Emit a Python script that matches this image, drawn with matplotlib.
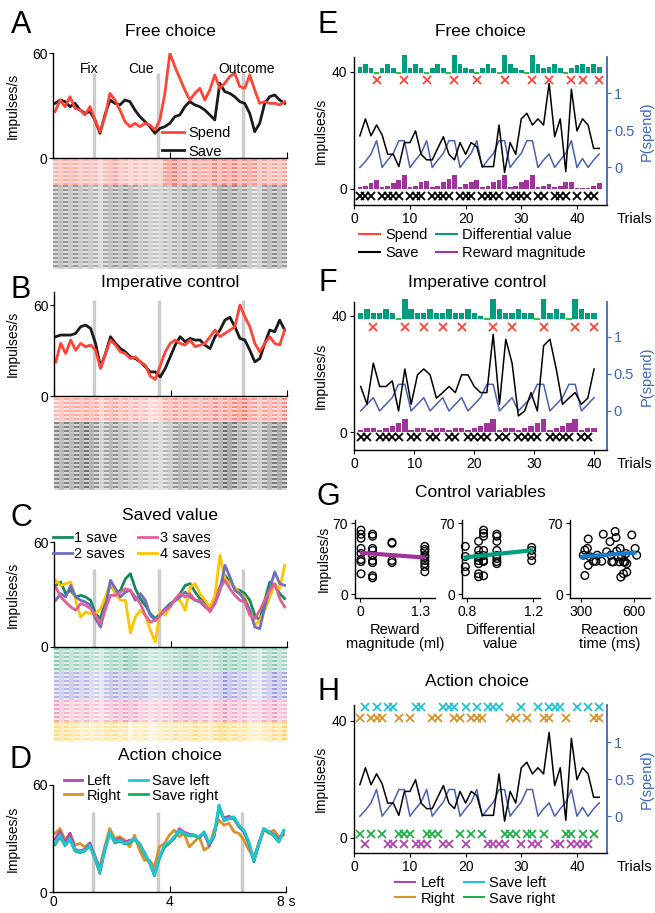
import numpy as np
import matplotlib
matplotlib.use("Agg")
import matplotlib.pyplot as plt
import matplotlib.colors as mcolors
from matplotlib.lines import Line2D

plt.rcParams['font.family'] = ['Liberation Sans', 'DejaVu Sans']
plt.rcParams['font.size'] = 10
plt.rcParams['axes.linewidth'] = 1.0

W, H = 655, 913

# ---------------- time courses (impulses/s), one value every ~0.17 s ----------------
t = np.linspace(0.06, 7.92, 47)
events = [1.38, 3.59, 6.48]

A_spend = [26.7, 33.3, 29.5, 35.2, 28.6, 27.6, 24.8, 29.5, 21.9, 15.2, 23.8, 37.1, 33.3, 27.6, 21.0, 18.1,
           20.0, 18.1, 20.0, 19.0, 16.2, 21.9, 37.1, 60.0, 52.4, 45.7, 39.0, 33.3, 37.1, 40.0, 33.3, 39.0,
           47.6, 40.0, 42.9, 46.7, 48.6, 41.0, 40.0, 47.6, 39.0, 31.4, 32.4, 31.4, 31.4, 30.5, 32.4]
A_save = [31.4, 33.3, 32.4, 29.5, 31.4, 27.6, 25.7, 26.7, 21.9, 14.3, 24.8, 33.3, 31.4, 30.5, 33.3, 32.4,
          27.6, 23.8, 21.0, 18.1, 14.3, 17.1, 18.1, 20.0, 23.8, 24.8, 29.5, 32.4, 30.5, 29.5, 27.6, 24.8,
          21.9, 42.9, 38.1, 37.1, 35.2, 32.4, 31.4, 25.7, 15.2, 20.0, 31.4, 35.2, 36.2, 33.3, 31.4]
B_spend = [22.5, 34.7, 28.0, 36.9, 30.2, 34.7, 32.5, 33.6, 30.2, 18.1, 28.0, 36.9, 33.6, 29.1, 28.0, 24.7,
           25.8, 22.5, 20.3, 13.0, 11.0, 20.0, 29.1, 34.7, 36.9, 34.7, 33.6, 36.9, 32.5, 33.6, 34.7, 39.1,
           43.5, 39.1, 41.3, 43.5, 45.7, 60.0, 52.3, 45.7, 34.7, 29.1, 34.7, 39.1, 34.7, 33.6, 43.5]
B_save = [39.1, 40.2, 40.2, 40.2, 41.3, 45.7, 46.8, 44.6, 34.7, 19.2, 28.0, 39.1, 34.7, 31.3, 29.1, 25.8,
          24.7, 22.5, 19.2, 15.9, 15.9, 12.6, 18.1, 25.8, 33.6, 39.1, 35.8, 38.0, 36.9, 36.9, 33.6, 31.3,
          39.1, 43.5, 50.1, 51.9, 45.7, 38.0, 36.9, 30.2, 22.5, 24.7, 34.7, 43.5, 42.4, 50.1, 43.5]
C_save1 = [35.2, 37.1, 30.5, 32.4, 28.6, 29.5, 28.6, 26.7, 19.0, 16.2, 26.7, 36.2, 30.5, 32.4, 39.0, 41.9,
           33.3, 27.6, 23.8, 19.0, 16.2, 19.0, 21.9, 24.8, 26.7, 30.5, 35.2, 36.2, 31.4, 27.6, 25.7, 22.9,
           26.7, 34.3, 41.0, 37.1, 33.3, 32.4, 30.5, 26.7, 18.1, 15.2, 26.7, 37.1, 35.2, 30.5, 27.6]
C_save2 = [26.7, 30.5, 28.6, 35.2, 28.6, 26.7, 25.7, 23.8, 16.2, 11.4, 22.9, 38.1, 33.3, 28.6, 31.4, 32.4,
           26.7, 30.5, 26.7, 18.1, 15.2, 18.1, 21.9, 23.8, 26.7, 28.6, 31.4, 28.6, 26.7, 25.7, 22.9, 21.0,
           24.8, 32.4, 46.7, 40.0, 32.4, 30.5, 26.7, 21.0, 11.4, 10.5, 22.9, 33.3, 42.9, 36.2, 35.2]
C_save3 = [34.3, 28.6, 25.7, 22.9, 21.0, 24.8, 23.8, 21.9, 18.1, 13.3, 21.9, 29.5, 29.5, 31.4, 33.3, 32.4,
           28.6, 24.8, 18.1, 14.3, 15.2, 18.1, 21.0, 22.9, 27.6, 30.5, 28.6, 30.5, 26.7, 26.7, 23.8, 20.0,
           25.7, 33.3, 38.1, 33.3, 29.5, 26.7, 25.7, 18.1, 16.2, 21.0, 26.7, 32.4, 36.2, 27.6, 22.9]
C_save4 = [38.1, 35.2, 36.2, 37.1, 26.7, 17.1, 20.0, 19.0, 19.0, 21.9, 28.6, 37.1, 30.5, 26.7, 26.7, 8.0,
           17.1, 21.0, 18.1, 9.5, 2.9, 21.0, 18.1, 23.8, 26.7, 26.7, 21.0, 34.3, 36.2, 30.5, 26.7, 22.9,
           29.5, 52.4, 39.0, 36.2, 34.3, 30.5, 28.6, 21.0, 12.4, 15.2, 21.0, 28.6, 36.2, 33.3, 46.7]
D_left = [29.5, 34.0, 27.5, 33.0, 24.0, 23.0, 24.0, 27.5, 20.5, 12.0, 24.0, 33.0, 28.5, 30.0, 28.0, 29.0,
          29.5, 27.0, 22.0, 16.5, 10.5, 19.0, 25.0, 27.5, 30.0, 35.5, 33.5, 32.5, 32.0, 30.5, 33.0, 26.0,
          31.0, 47.0, 41.5, 42.5, 41.0, 36.5, 34.0, 27.0, 17.5, 27.5, 35.0, 34.0, 32.5, 29.0, 34.0]
D_right = [32.8, 35.6, 29.1, 32.8, 26.3, 27.2, 25.3, 27.2, 19.7, 14.1, 25.3, 35.6, 30.0, 31.0, 29.1, 25.3,
           31.9, 23.5, 17.8, 17.8, 14.1, 25.3, 27.2, 31.9, 34.7, 31.0, 32.8, 25.3, 28.1, 31.0, 23.5, 25.3,
           34.7, 40.3, 37.5, 38.5, 33.8, 32.8, 29.1, 23.5, 19.7, 27.2, 35.6, 32.8, 34.7, 31.0, 31.9]
D_saveleft = [27.2, 31.9, 26.3, 30.0, 23.5, 22.5, 23.5, 26.3, 19.7, 11.3, 23.5, 33.8, 28.1, 29.1, 27.2, 28.1,
              30.0, 27.2, 21.6, 16.9, 9.4, 19.7, 26.3, 28.1, 31.0, 34.7, 32.8, 31.9, 31.9, 31.0, 33.8, 27.2,
              31.9, 48.8, 40.3, 41.3, 42.2, 37.5, 34.7, 28.1, 17.8, 27.2, 35.6, 33.8, 31.9, 28.1, 34.7]
D_saveright = [26.5, 31.0, 26.0, 29.5, 23.0, 22.0, 23.0, 26.0, 19.0, 10.5, 23.0, 33.5, 27.5, 28.5, 27.0, 27.5,
               29.5, 27.0, 21.0, 16.5, 9.0, 19.0, 25.5, 27.5, 30.5, 34.0, 32.5, 31.5, 31.5, 30.5, 33.5, 27.0,
               31.5, 48.0, 40.0, 41.0, 41.5, 37.0, 34.0, 27.5, 17.0, 26.5, 35.0, 33.5, 31.5, 28.0, 34.0]

# trials per raster band
A_rows = [13, 42]
B_rows = [12, 34]
C_rows = [12, 14, 11, 10]

# ---------------- single-trial data ----------------
E_trials = np.arange(1, 45)
E_rate = [18.1, 23.9, 18.1, 21.8, 18.4, 11.8, 11.8, 7.6, 15.8, 15.8, 19.8, 11.8, 9.9, 9.9, 13.9, 17.8,
          11.8, 9.9, 15.8, 11.8, 15.8, 14.4, 7.6, 7.6, 7.6, 21.8, 5.6, 15.8, 11.8, 23.9, 25.8, 21.8,
          23.9, 21.8, 36.0, 17.8, 23.9, 5.9, 34.0, 19.8, 23.9, 21.8, 13.8, 13.8]
E_pspend = [0, 0.08, 0.18, 0.36, 0, 0.1, 0.19, 0.36, 0.36, 0, 0.1, 0.19, 0.36, 0, 0.1, 0.19, 0.36, 0.36,
            0, 0.1, 0.19, 0.36, 0, 0.1, 0.19, 0.36, 0.36, 0, 0.1, 0.19, 0.36, 0.36, 0, 0.1, 0.18, 0, 0.1,
            0.19, 0.36, 0, 0.12, 0, 0.1, 0.18]
E_spend = [4, 9, 13, 18, 22, 27, 32, 35, 39, 41, 44]
E_diff = [1.9, 3.0, 1.4, 0, 1.7, 3.0, 1.7, 0, 6.0, 1.7, 3.0, 1.7, 0, 1.7, 3.0, 1.4, 0, 6.0, 3.0, 1.7, 1.1,
          0, 1.7, 3.0, 1.4, 0, 6.0, 3.0, 1.7, 0.9, 0, 6.0, 3.0, 1.7, 1.9, 3.0, 1.4, 0, 1.7, 2.5, 3.0, 1.9,
          3.0, 1.9]
E_reward = [0.5, 1.1, 1.9, 2.9, 0.5, 1.1, 1.9, 3.2, 4.8, 0.8, 1.1, 2.4, 2.7, 0.8, 1.1, 2.2, 3.4, 4.8, 0.8,
            1.6, 2.2, 2.9, 0.5, 1.1, 2.2, 3.2, 4.8, 0.5, 1.1, 2.2, 3.2, 4.8, 0.8, 1.1, 1.6, 0.8, 1.1, 2.2,
            2.5, 0.4, 0.4, 0.4, 1.1, 1.9]

F_trials = np.arange(1, 39)
F_rate = [15.7, 9.6, 23.7, 15.7, 15.7, 17.6, 7.3, 21.7, 9.6, 19.7, 21.7, 19.7, 11.7, 13.6, 15.7, 13.6,
          19.7, 19.7, 15.7, 13.6, 13.6, 33.6, 9.6, 31.9, 23.7, 5.6, 7.3, 13.6, 7.3, 29.7, 31.9, 21.7, 9.6,
          11.7, 13.6, 9.6, 11.7, 21.7]
F_pspend = [0, 0.09, 0.18, 0, 0.09, 0.18, 0.36, 0.36, 0, 0.09, 0.18, 0, 0.09, 0.18, 0, 0.09, 0.18, 0, 0.09,
            0.18, 0.36, 0.36, 0, 0.09, 0.18, 0, 0.09, 0.18, 0.36, 0.36, 0, 0.09, 0.18, 0.36, 0.36, 0, 0.09,
            0.18]
F_spend = [3, 8, 11, 14, 17, 22, 25, 30, 35, 38]
F_diff = [1.9, 3.4, 1.9, 1.9, 3.4, 1.9, 0, 6.9, 3.4, 1.9, 1.9, 3.4, 1.9, 1.9, 3.4, 1.9, 1.9, 3.4, 1.9, 1.0,
          0, 6.9, 3.4, 1.9, 1.9, 3.4, 1.9, 1.9, 0, 6.9, 1.9, 3.4, 1.9, 0, 6.9, 3.4, 1.9, 1.9]
F_reward = [0.7, 1.4, 1.6, 0.7, 1.4, 2.3, 3.1, 4.6, 0.7, 1.4, 1.4, 0.7, 1.4, 1.4, 0.7, 1.4, 1.4, 0.7, 1.4,
            2.3, 3.1, 4.6, 0.9, 1.6, 1.4, 0.9, 1.4, 2.3, 3.1, 4.6, 0.7, 1.4, 2.3, 3.1, 4.6, 0.9, 1.4, 1.6]

H_left = [2, 6, 7, 9, 11, 12, 13, 16, 17, 20, 24, 25, 26, 27, 30, 32, 33, 36, 37, 39, 40, 41, 42]
H_right = [1, 3, 4, 5, 8, 10, 14, 15, 18, 19, 21, 22, 23, 28, 29, 31, 34, 35, 38, 43, 44]
H_saveleft = [2, 4, 6, 7, 11, 12, 16, 17, 18, 20, 22, 24, 25, 26, 30, 33, 35, 36, 37, 40, 42, 44]
H_saveright = [1, 3, 5, 8, 9, 10, 13, 14, 15, 19, 21, 23, 27, 28, 29, 31, 32, 34, 38, 39, 41, 43]

# ---------------- control variables ----------------
G1_levels = [0.02, 0.27, 0.69, 1.40]
G1_y = [[63, 59, 55, 45, 40, 34, 32, 20], [59, 57, 45, 43, 38, 33, 31, 18, 16],
        [51, 50, 33, 31], [47, 44, 42, 38, 36, 33, 30, 27, 22]]
G1_fit = ([0.0, 1.4], [40.7, 36.0])
G2_levels = [0.79, 0.87, 0.90, 0.98, 1.19]
G2_y = [[47, 37, 27, 22], [52, 43, 38, 36, 33, 30, 20, 17], [63, 60, 57, 43, 38, 33, 32, 18],
        [59, 57, 52, 43, 38, 35, 32, 30], [46, 43, 38, 33]]
G2_fit = ([0.78, 1.2], [36.0, 43.3])
G3_rt = [313, 322, 336, 341, 351, 322, 341, 370, 385, 392, 417, 426, 445, 464, 468, 474, 483, 493, 498,
         502, 511, 517, 521, 525, 530, 540, 540, 549, 555, 559, 559, 587, 606, 615]
G3_y = [38.3, 43.3, 45.0, 54.3, 36.7, 18.3, 28.3, 32.3, 32.3, 38.3, 32.3, 59.0, 41.7, 51.7, 38.3, 31.7,
        31.7, 61.7, 55.7, 42.3, 36.7, 31.7, 45.0, 16.7, 36.7, 31.7, 20.0, 31.7, 40.0, 30.0, 21.7, 58.3,
        45.0, 38.3]
G3_fit = ([295, 615], [36.7, 41.0])

# colours
RED = '#ff4436'
BLACK = '#1a1a1a'
TEAL = '#009e7e'
PURPLE = '#a0349a'
BLUE = '#4a5fb5'
AXBLUE = '#3d66bd'
GRAY = '#cccccc'

fig = plt.figure(figsize=(W / 100, H / 100), dpi=100)


def box(x0, x1, ytop, ybot):
    return [x0 / W, 1 - ybot / H, (x1 - x0) / W, (ybot - ytop) / H]


def psth(pos, ymax, evtop, lines, xlabels=False):
    ax = fig.add_axes(box(*pos))
    ax.vlines(events, 0, evtop, color=GRAY, lw=2.5, zorder=0)
    for y, c in lines:
        ax.plot(t, y, color=c, lw=2.0, solid_joinstyle='round')
    ax.set_xlim(0, 8)
    ax.set_ylim(0, ymax)
    ax.spines[['top', 'right']].set_visible(False)
    ax.set_yticks([0, 60])
    ax.tick_params(axis='y', length=3, pad=1, labelsize=10)
    ax.set_xticks([0, 4, 8])
    if xlabels:
        ax.set_xticklabels(['0', '4', '8 s'])
        ax.tick_params(axis='x', direction='in', length=4, pad=2, labelsize=10)
    else:
        ax.set_xticklabels([])
        ax.tick_params(axis='x', direction='in', length=4)
    ax.set_ylabel('Impulses/s', fontsize=10)
    ax.yaxis.set_label_coords(-0.145, 0.5)
    return ax


def raster(pos, bands):
    # one row per trial, darkness following the band's firing rate
    ax = fig.add_axes(box(*pos))
    rows = []
    for rate, color, n in bands:
        rgb = mcolors.to_rgb(color)
        a = 0.12 + 0.55 * np.clip(np.array(rate) / 55.0, 0, 1)
        band = np.ones((n, len(rate), 4))
        band[:, :, :3] = rgb
        band[:, :, 3] = a
        band[1::2, :, 3] *= 0.5
        band[::2, 1::2, 3] *= 0.6
        band[1::2, ::2, 3] *= 0.6
        rows.append(band)
    img = np.concatenate(rows)
    ax.imshow(img, aspect='auto', extent=[0, 8, img.shape[0], 0], interpolation='nearest')
    ax.set_xlim(0, 8)
    ax.axis('off')


def letter(x, y, s):
    fig.text(x / W, 1 - y / H, s, fontsize=22, ha='center', va='center')


def title(x, y, s):
    fig.text(x / W, 1 - y / H, s, fontsize=12.5, ha='center', va='center')


# ---------------- A ----------------
axA = psth((53.3, 287, 53.3, 158.3), 60, 48.6, [(A_save, BLACK), (A_spend, RED)])
axA.text(1.23, 51, 'Fix', ha='center', va='center', fontsize=10)
axA.text(3.0, 51, 'Cue', ha='center', va='center', fontsize=10)
axA.text(6.61, 51, 'Outcome', ha='center', va='center', fontsize=10)
axA.legend([Line2D([], [], color=RED, lw=2), Line2D([], [], color=BLACK, lw=2)], ['Spend', 'Save'],
           loc='lower left', bbox_to_anchor=(0.42, -0.1), frameon=False, fontsize=10.5,
           handlelength=1.5, handletextpad=0.3, labelspacing=0.3, borderpad=0.2)
raster((53.3, 287, 159, 269), [(A_spend, '#ff2a1a', A_rows[0]), (A_save, '#101010', A_rows[1])])
letter(21, 25, 'A')
title(170, 32, 'Free choice')

# ---------------- B ----------------
psth((54, 287, 292, 396), 68.6, 63, [(B_save, BLACK), (B_spend, RED)])
raster((54, 287, 398, 490), [(B_spend, '#ff2a1a', B_rows[0]), (B_save, '#101010', B_rows[1])])
letter(21, 290, 'B')
title(170, 283, 'Imperative control')

# ---------------- C ----------------
C_cols = ['#168a5c', '#6f6fc0', '#e0609a', '#ffc400']
axC = psth((54, 287, 542, 647), 60, 44.8,
           [(C_save1, C_cols[0]), (C_save4, C_cols[3]), (C_save2, C_cols[1]), (C_save3, C_cols[2])])
axC.legend([Line2D([], [], color=c, lw=2) for c in C_cols], ['1 save', '2 saves', '3 saves', '4 saves'],
           ncol=2, loc='upper left', bbox_to_anchor=(-0.05, 1.2), frameon=False, fontsize=10.5,
           handlelength=1.3, handletextpad=0.2, labelspacing=0.1, columnspacing=0.9, borderpad=0.2)
raster((54, 287, 648, 742), [(C_save1, '#109060', C_rows[0]), (C_save2, '#4a4ac0', C_rows[1]),
                             (C_save3, '#e03a80', C_rows[2]), (C_save4, '#ffb800', C_rows[3])])
letter(21, 518, 'C')
title(170, 515, 'Saved value')

# ---------------- D ----------------
D_cols = ['#b048b0', '#d89228', '#22c4d4', '#14b060']
axD = psth((53.3, 286, 785, 892), 60, 45,
           [(D_right, D_cols[1]), (D_left, D_cols[0]), (D_saveright, D_cols[3]), (D_saveleft, D_cols[2])],
           xlabels=True)
axD.legend([Line2D([], [], color=c, lw=2) for c in D_cols], ['Left', 'Right', 'Save left', 'Save right'],
           ncol=2, loc='upper left', bbox_to_anchor=(0.0, 1.2), frameon=False, fontsize=10.5,
           handlelength=1.3, handletextpad=0.3, labelspacing=0.05, columnspacing=0.5, borderpad=0.2)
letter(21, 760, 'D')
title(170, 755, 'Action choice')

# ---------------- trial panels ----------------
P0L, PSPAN = 7.3, 25.4


def trial_panel(pos, xlim, ylim, trials, rate, pspend):
    ax = fig.add_axes(box(*pos))
    ax.plot(trials, rate, color='k', lw=1.1, zorder=3)
    ax.set_xlim(*xlim)
    ax.set_ylim(*ylim)
    ax.spines[['top', 'right']].set_visible(False)
    ax.set_yticks([0, 40])
    ax.tick_params(length=3, pad=2, labelsize=10)
    ax.set_ylabel('Impulses/s', fontsize=10)
    ax.yaxis.set_label_coords(-0.105, 0.5)
    ax.text(1.11, -0.045, 'Trials', transform=ax.transAxes, ha='center', va='top', fontsize=10.5)
    axr = ax.twinx()
    axr.plot(trials, pspend, color=BLUE, lw=1.1)
    axr.set_ylim((ylim[0] - P0L) / PSPAN, (ylim[1] - P0L) / PSPAN)
    axr.set_yticks([0, 0.5, 1])
    axr.set_yticklabels(['0', '0.5', '1'])
    axr.spines[['top', 'left', 'bottom']].set_visible(False)
    axr.spines['right'].set_color(AXBLUE)
    axr.spines['right'].set_linewidth(1.3)
    axr.tick_params(colors=AXBLUE, length=3, pad=2, labelsize=10.5)
    axr.set_ylabel('P(spend)', color=AXBLUE, fontsize=10.5, labelpad=4)
    ax.set_zorder(axr.get_zorder() + 1)
    ax.patch.set_visible(False)
    return ax


def bars(ax, trials, diff, reward, base_top, base_bot):
    diff = np.array(diff)
    ax.bar(trials, diff, bottom=base_top, width=0.85, color=TEAL, clip_on=False, zorder=2)
    zero = trials[diff == 0]
    ax.hlines([base_top] * len(zero), zero - 0.45, zero + 0.45, color='#2ec02e', lw=1.4, zorder=2)
    ax.bar(trials, reward, bottom=base_bot, width=0.85, color=PURPLE, zorder=2)


def xmarks(ax, xs, y, color):
    ax.plot(xs, [y] * len(xs), 'x', color=color, ms=6, mew=1.3, clip_on=False, zorder=4)


# E
axE = trial_panel((354.3, 607, 56.7, 205), (0, 45.4), (-5.5, 45.1), E_trials, E_rate, E_pspend)
bars(axE, E_trials, E_diff, E_reward, 39.7, 0.0)
xmarks(axE, E_spend, 37.2, RED)
xmarks(axE, [k for k in E_trials if k not in E_spend], -2.3, 'k')
axE.set_xticks([0, 10, 20, 30, 40])
axE.legend([Line2D([], [], color=RED, lw=1.5), Line2D([], [], color='k', lw=1.5),
            Line2D([], [], color=TEAL, lw=1.5), Line2D([], [], color=PURPLE, lw=1.5)],
           ['Spend', 'Save', 'Differential value', 'Reward magnitude'], ncol=2, loc='upper left',
           bbox_to_anchor=(-0.02, -0.085), frameon=False, fontsize=10.5, handlelength=1.4,
           handletextpad=0.35, labelspacing=0.3, columnspacing=0.6, borderpad=0.2)
letter(328, 25, 'E')
title(480, 32, 'Free choice')

# F
axF = trial_panel((354.4, 606.7, 301.7, 450), (0, 40), (-6.1, 44.8), F_trials, F_rate, F_pspend)
bars(axF, F_trials, F_diff, F_reward, 38.9, 0.0)
xmarks(axF, F_spend, 36.0, RED)
xmarks(axF, [k for k in F_trials if k not in F_spend], -1.5, 'k')
axF.set_xticks(np.linspace(0, 38, 5))
axF.set_xticklabels(['0', '10', '20', '30', '40'])
letter(328, 283, 'F')
title(477, 282, 'Imperative control')

# H
axH = trial_panel((354.3, 607, 705, 853.3), (0, 45.4), (-5.4, 45.4), E_trials, E_rate, E_pspend)
H_cols = ['#b048b0', '#d89228', '#22c4d4', '#20b048']
xmarks(axH, H_saveleft, 44.8, H_cols[2])
xmarks(axH, H_right, 40.8, H_cols[1])
xmarks(axH, H_saveright, 1.2, H_cols[3])
xmarks(axH, H_left, -2.2, H_cols[0])
axH.set_xticks([0, 10, 20, 30, 40])
axH.legend([Line2D([], [], color=c, lw=1.5) for c in H_cols], ['Left', 'Right', 'Save left', 'Save right'],
           ncol=2, loc='upper left', bbox_to_anchor=(0.12, -0.085), frameon=False, fontsize=10.5,
           handlelength=1.4, handletextpad=0.35, labelspacing=0.1, columnspacing=0.6, borderpad=0.2)
letter(328, 692, 'H')
title(477, 681, 'Action choice')

# ---------------- G ----------------


def scatter_panel(pos, xlim, xticks, xticklabels, xs, ys, fit, color, xlabel, ylabel=False):
    ax = fig.add_axes(box(*pos))
    ax.scatter(xs, ys, s=30, facecolors='none', edgecolors='k', linewidths=1.0, zorder=2, clip_on=False)
    ax.plot(fit[0], fit[1], color=color, lw=3, zorder=3, solid_capstyle='butt')
    ax.set_xlim(*xlim)
    ax.set_ylim(-3.6, 73)
    ax.set_xticks(xticks)
    ax.set_xticklabels(xticklabels)
    ax.set_yticks([0, 70])
    ax.spines[['top', 'right']].set_visible(False)
    ax.tick_params(length=3, pad=2, labelsize=10)
    ax.set_xlabel(xlabel, fontsize=10.5, linespacing=1.05, labelpad=3)
    if ylabel:
        ax.set_ylabel('Impulses/s', fontsize=10)
        ax.yaxis.set_label_coords(-0.3, 0.5)
    return ax


g1x = np.concatenate([[lv] * len(v) for lv, v in zip(G1_levels, G1_y)])
g1y = np.concatenate(G1_y)
g2x = np.concatenate([[lv] * len(v) for lv, v in zip(G2_levels, G2_y)])
g2y = np.concatenate(G2_y)
scatter_panel((355, 435, 520, 597.7), (-0.11, 1.62), [0, 1.3], ['0', '1.3'], g1x, g1y, G1_fit, PURPLE,
              'Reward\nmagnitude (ml)', ylabel=True)
scatter_panel((462, 540, 520, 597.7), (0.77, 1.24), [0.8, 1.2], ['0.8', '1.2'], g2x, g2y, G2_fit, TEAL,
              'Differential\nvalue')
scatter_panel((570, 650, 520, 597.7), (238, 690), [300, 600], ['300', '600'], G3_rt, G3_y, G3_fit,
              '#1a7ccc', 'Reaction\ntime (ms)')
letter(328, 497, 'G')
title(480, 492, 'Control variables')

fig.savefig('out.png', dpi=100)
